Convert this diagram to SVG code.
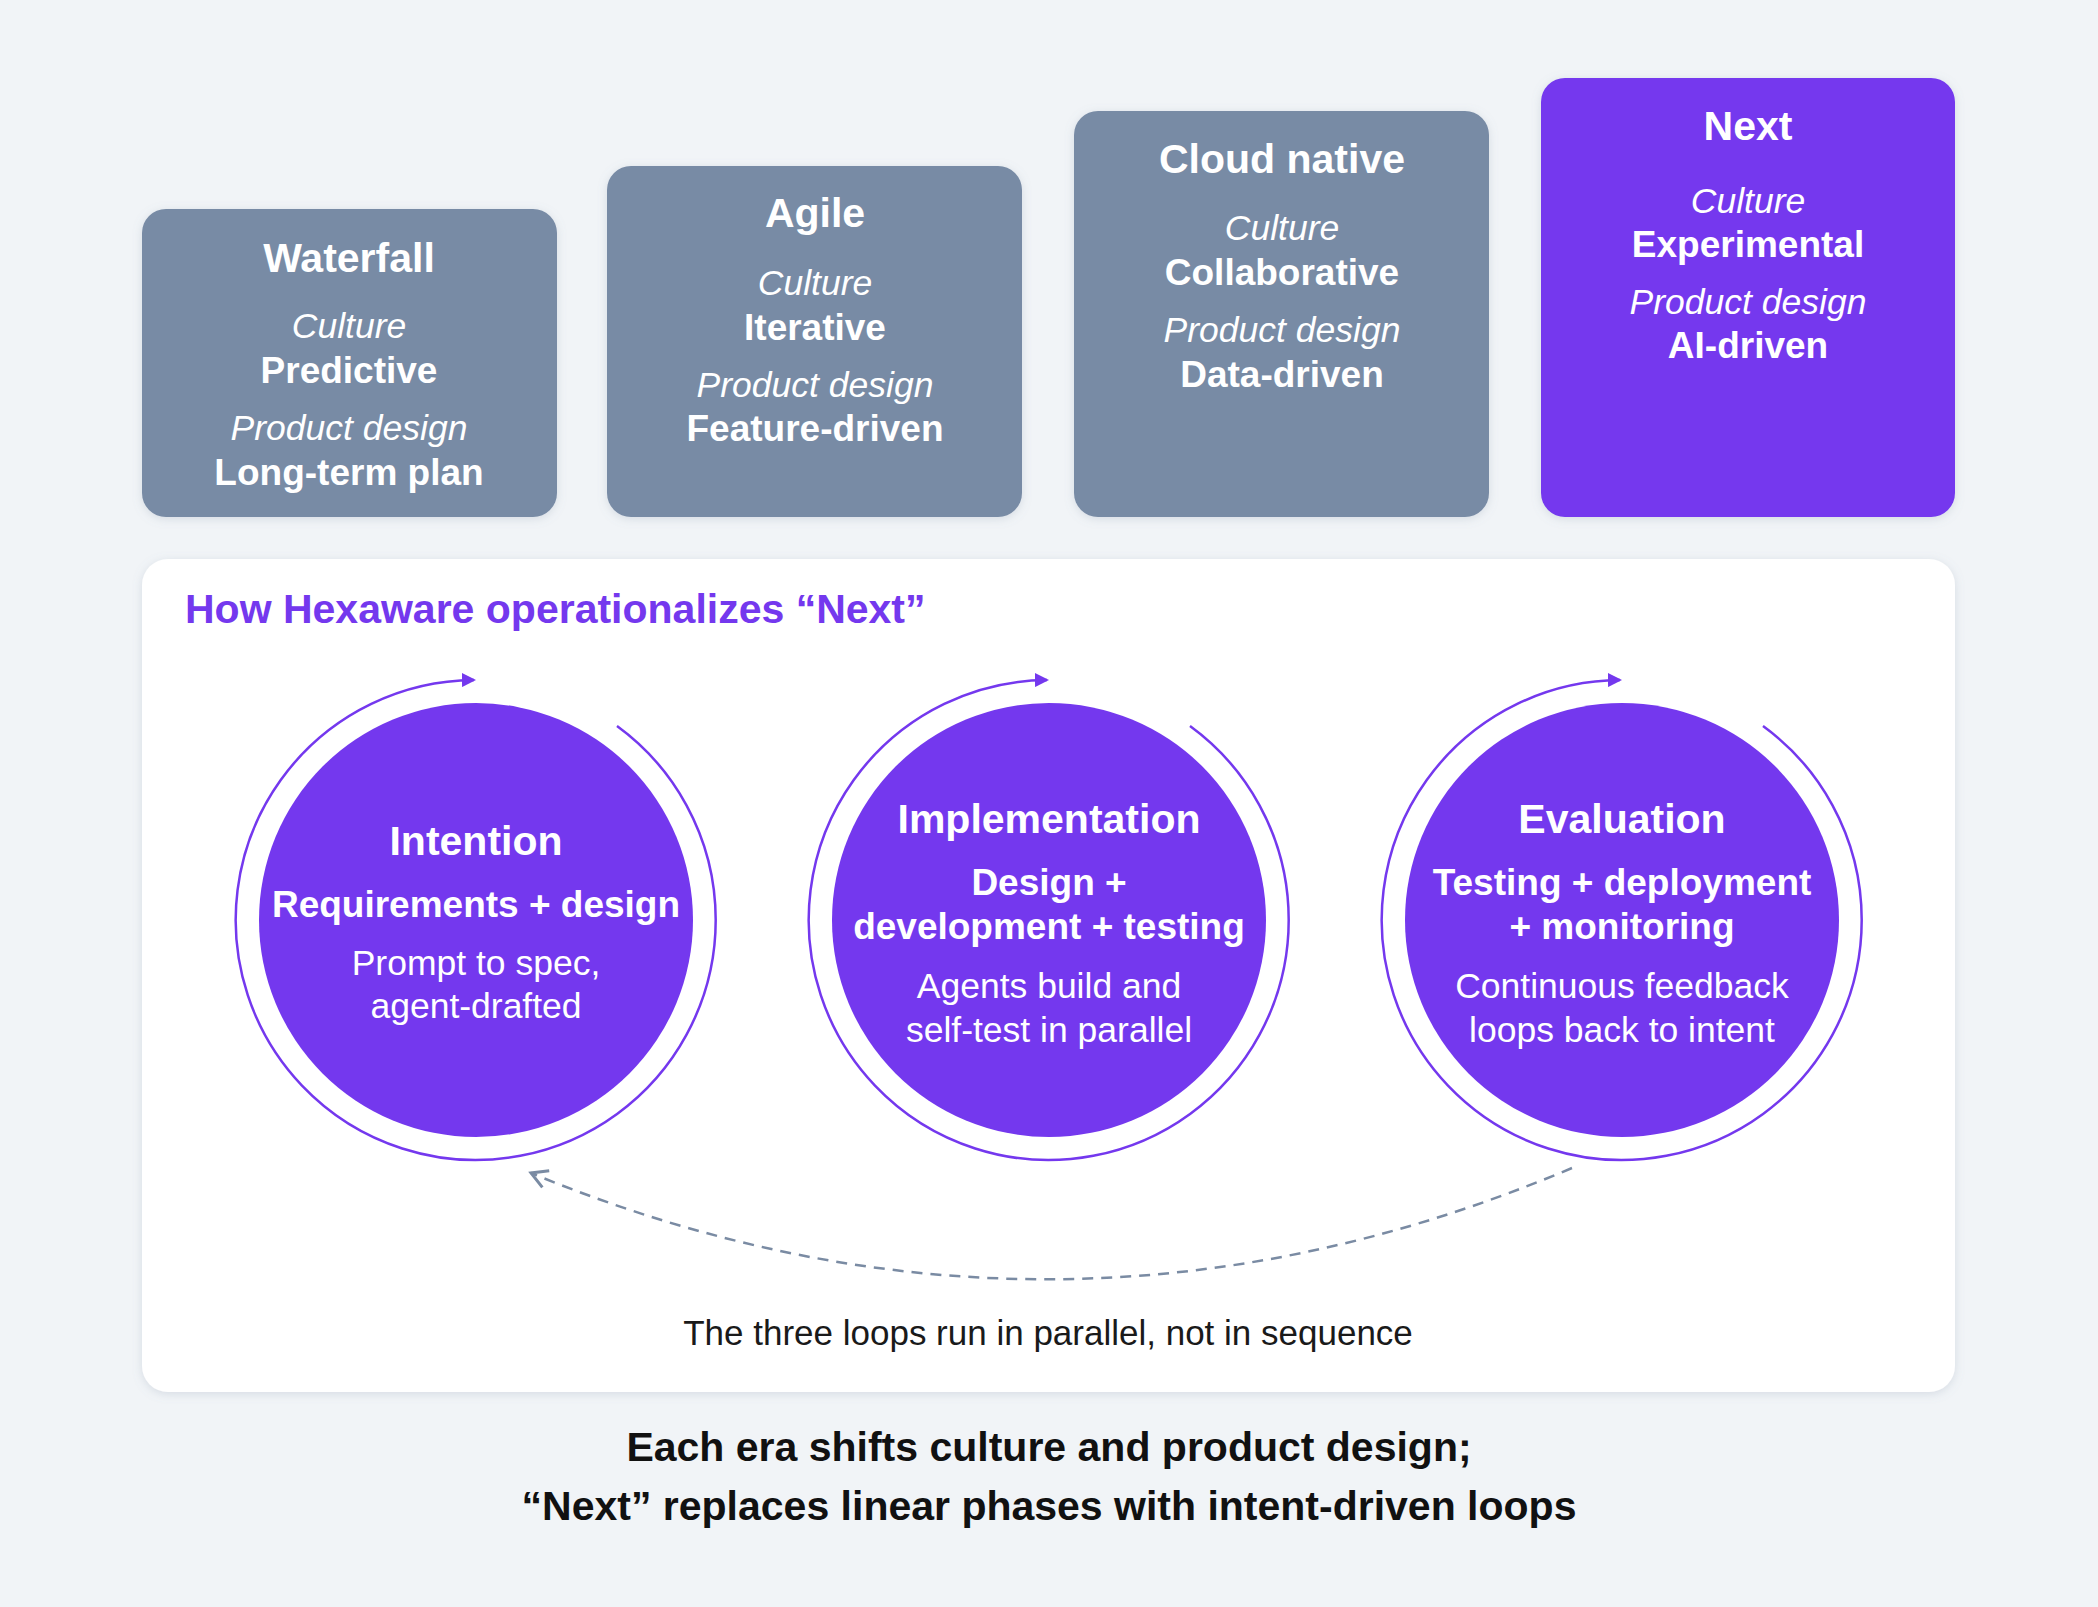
<svg xmlns="http://www.w3.org/2000/svg" width="2098" height="1607" viewBox="0 0 2098 1607">
<style>
text{font-family:"Liberation Sans",Arial,sans-serif;fill:#fff;text-anchor:middle}
.t{font-size:41px;font-weight:bold}
.i{font-size:35.5px;font-style:italic}
.b{font-size:37px;font-weight:bold}
.ct{font-size:41px;font-weight:bold}
.cb{font-size:37px;font-weight:bold}
.cr{font-size:35.5px}
.gray{fill:#788BA5}
.pur{fill:#7438EE}
.ring{fill:none;stroke:#7438EE;stroke-width:2.5}
</style>
<defs>
<filter id="sh" x="-10%" y="-10%" width="120%" height="120%"><feDropShadow dx="0" dy="2" stdDeviation="5" flood-color="#8090a8" flood-opacity="0.25"/></filter>
<marker id="ah" markerWidth="14" markerHeight="14" refX="12" refY="7" orient="auto" markerUnits="userSpaceOnUse"><path d="M0,0 L14,7 L0,14 z" fill="#7438EE"/></marker>
<marker id="ag" markerWidth="22" markerHeight="22" refX="18" refY="11" orient="auto" markerUnits="userSpaceOnUse"><path d="M2,2 L18,11 L2,20" fill="none" stroke="#7A8BA3" stroke-width="3"/></marker>
</defs>
<rect width="2098" height="1607" fill="#F1F4F7"/>
<g id="waterfall"><rect x="142" y="209" width="415" height="308" rx="24" class="gray" filter="url(#sh)"/>
<text x="349" y="272" class="t">Waterfall</text><text x="349" y="338" class="i">Culture</text><text x="349" y="383" class="b">Predictive</text><text x="349" y="440" class="i">Product design</text><text x="349" y="485" class="b">Long-term plan</text></g>
<g id="agile"><rect x="607" y="166" width="415" height="351" rx="24" class="gray" filter="url(#sh)"/>
<text x="815" y="227" class="t">Agile</text><text x="815" y="295" class="i">Culture</text><text x="815" y="340" class="b">Iterative</text><text x="815" y="397" class="i">Product design</text><text x="815" y="441" class="b">Feature-driven</text></g>
<g id="cloud"><rect x="1074" y="111" width="415" height="406" rx="24" class="gray" filter="url(#sh)"/>
<text x="1282" y="173" class="t">Cloud native</text><text x="1282" y="240" class="i">Culture</text><text x="1282" y="285" class="b">Collaborative</text><text x="1282" y="342" class="i">Product design</text><text x="1282" y="387" class="b">Data-driven</text></g>
<g id="next"><rect x="1541" y="78" width="414" height="439" rx="24" class="pur" filter="url(#sh)"/>
<text x="1748" y="140" class="t">Next</text><text x="1748" y="213" class="i">Culture</text><text x="1748" y="257" class="b">Experimental</text><text x="1748" y="314" class="i">Product design</text><text x="1748" y="358" class="b">AI-driven</text></g>
<g id="panel"><rect x="142" y="559" width="1813" height="833" rx="26" fill="#fff" filter="url(#sh)"/>
<text x="185" y="623" style="text-anchor:start;fill:#7438EE;font-size:41px;font-weight:bold">How Hexaware operationalizes “Next”</text></g>
<g id="intention"><circle cx="476" cy="920" r="217" class="pur"/>
<text x="476" y="855" class="ct">Intention</text><text x="476" y="917" class="cb">Requirements + design</text><text x="476" y="975" class="cr">Prompt to spec,</text><text x="476" y="1018" class="cr">agent-drafted</text></g>
<g id="implementation"><circle cx="1049" cy="920" r="217" class="pur"/>
<text x="1049" y="833" class="ct">Implementation</text><text x="1049" y="895" class="cb">Design +</text><text x="1049" y="939" class="cb">development + testing</text><text x="1049" y="998" class="cr">Agents build and</text><text x="1049" y="1042" class="cr">self-test in parallel</text></g>
<g id="evaluation"><circle cx="1622" cy="920" r="217" class="pur"/>
<text x="1622" y="833" class="ct">Evaluation</text><text x="1622" y="895" class="cb">Testing + deployment</text><text x="1622" y="939" class="cb">+ monitoring</text><text x="1622" y="998" class="cr">Continuous feedback</text><text x="1622" y="1042" class="cr">loops back to intent</text></g>
<g id="connectors">
<path class="ring" marker-end="url(#ah)" d="M617,726 A240,240 0 1 1 474,680"/>
<path class="ring" marker-end="url(#ah)" d="M1190,726 A240,240 0 1 1 1047,680"/>
<path class="ring" marker-end="url(#ah)" d="M1763,726 A240,240 0 1 1 1620,680"/>
<path d="M1572,1168 Q1052,1388 531,1173" fill="none" stroke="#7A8BA3" stroke-width="2.5" stroke-dasharray="11,8" marker-end="url(#ag)"/>
</g>
<text x="1048" y="1345" style="fill:#1a1a1a;font-size:35px">The three loops run in parallel, not in sequence</text>
<text x="1049" y="1461" style="fill:#111;font-size:41px;font-weight:bold">Each era shifts culture and product design;</text>
<text x="1049" y="1520" style="fill:#111;font-size:41px;font-weight:bold">“Next” replaces linear phases with intent-driven loops</text>
</svg>
